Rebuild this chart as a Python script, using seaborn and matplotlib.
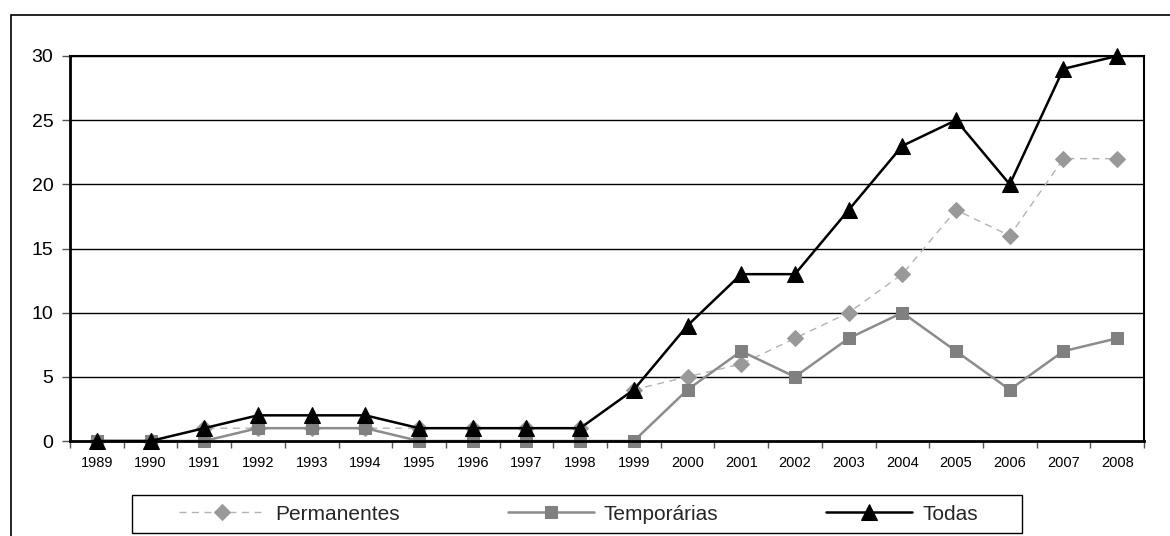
import matplotlib
matplotlib.use("Agg")
import matplotlib.pyplot as plt
import matplotlib.patches as mpatches
from matplotlib.ticker import FixedLocator, NullFormatter
import numpy as np
import pandas as pd
import seaborn as sns

years = [1989, 1990, 1991, 1992, 1993, 1994, 1995, 1996, 1997, 1998,
         1999, 2000, 2001, 2002, 2003, 2004, 2005, 2006, 2007, 2008]
permanentes = [0, 0, 1, 1, 1, 1, 1, 1, 1, 1, 4, 5, 6, 8, 10, 13, 18, 16, 22, 22]
temporarias = [0, 0, 0, 1, 1, 1, 0, 0, 0, 0, 0, 4, 7, 5, 8, 10, 7, 4, 7, 8]
todas = [0, 0, 1, 2, 2, 2, 1, 1, 1, 1, 4, 9, 13, 13, 18, 23, 25, 20, 29, 30]
series_names = ["Permanentes", "Temporárias", "Todas"]
yticks = [0, 5, 10, 15, 20, 25, 30]

sns.set_theme(style="white")
plt.rcParams['font.family'] = ['Liberation Sans', 'DejaVu Sans']

W, H = 1170, 536
fig = plt.figure(figsize=(W / 100, H / 100), dpi=100)
ax = fig.add_axes([70 / W, 1 - 441 / H, (1144 - 70) / W, (441 - 56) / H])

pos = np.arange(len(years))
df = pd.DataFrame({"pos": pos, "Permanentes": permanentes,
                   "Temporárias": temporarias, "Todas": todas})

styles = {
    "Permanentes": dict(color="#b3b3b3", marker="D", markersize=8, linestyle=(0, (5, 4)),
                        linewidth=1.0, markerfacecolor="#999999", markeredgecolor="#999999"),
    "Temporárias": dict(color="#8c8c8c", marker="s", markersize=9, linestyle="-",
                        linewidth=1.8, markerfacecolor="#808080", markeredgecolor="#808080"),
    "Todas": dict(color="black", marker="^", markersize=11, linestyle="-",
                  linewidth=1.8, markerfacecolor="black", markeredgecolor="black"),
}
for name in series_names:
    sns.lineplot(data=df, x="pos", y=name, ax=ax, label=name, clip_on=False, **styles[name])

ax.set_xlim(-0.5, len(years) - 0.5)
ax.set_ylim(0, 30)
ax.set_yticks(yticks)
ax.set_yticklabels([str(v) for v in yticks], fontsize=14)
ax.set_xticks(pos)
ax.set_xticklabels([str(y) for y in years], fontsize=10.5)
ax.xaxis.set_minor_locator(FixedLocator(np.arange(-0.5, len(years), 1.0)))
ax.xaxis.set_minor_formatter(NullFormatter())
ax.tick_params(axis="x", which="major", length=0, pad=11, colors="black")
ax.tick_params(axis="x", which="minor", length=5, width=1, color="#555555", bottom=True)
ax.tick_params(axis="y", length=6, width=1, color="#555555", left=True, pad=6, colors="black")
ax.set_xlabel("")
ax.set_ylabel("")
ax.grid(False)
for v in yticks[1:]:
    ax.axhline(v, color="black", linewidth=1.0, zorder=0)

for side in ["left", "bottom"]:
    ax.spines[side].set_color("black")
    ax.spines[side].set_linewidth(2.0)
for side in ["right", "top"]:
    ax.spines[side].set_color("black")
    ax.spines[side].set_linewidth(1.5)

fs = 15
fs_px = fs * 100 / 72
leg = ax.legend(loc="center left", bbox_to_anchor=(179 / W, 1 - 514 / H),
                bbox_transform=fig.transFigure, ncol=3, frameon=False,
                fontsize=fs, handlelength=86 / fs_px, handletextpad=10 / fs_px,
                columnspacing=108 / fs_px, borderpad=0, borderaxespad=0)

fig.patches.append(mpatches.Rectangle((132 / W, 1 - 533 / H), (1022 - 132) / W, (533 - 495) / H,
                                      transform=fig.transFigure, fill=False,
                                      edgecolor="black", linewidth=1.0))
fig.patches.append(mpatches.Rectangle((11 / W, -0.1), 1.2, 1 - 15 / H + 0.1,
                                      transform=fig.transFigure, fill=False,
                                      edgecolor="black", linewidth=1.2))

fig.savefig("out.png", dpi=100)
